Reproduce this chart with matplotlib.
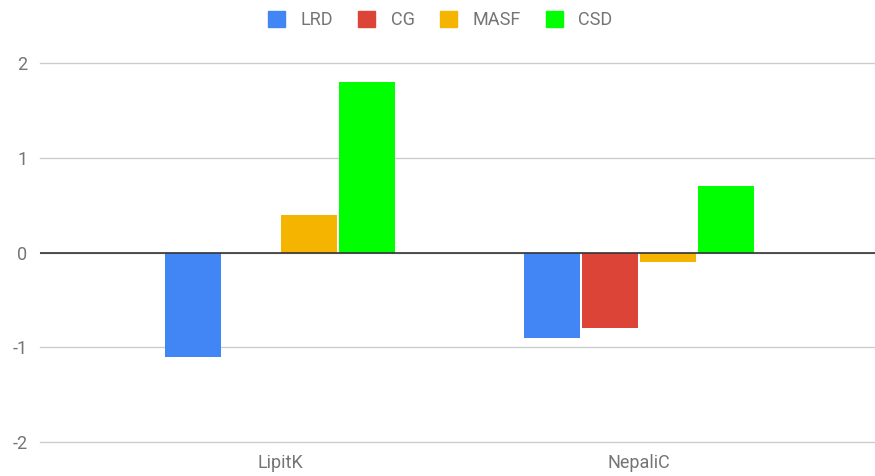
import matplotlib.pyplot as plt
import numpy as np
from matplotlib.patches import Patch

plt.rcParams['font.family'] = ['Roboto', 'DejaVu Sans']

categories = ['LipitK', 'NepaliC']
series = ['LRD', 'CG', 'MASF', 'CSD']
values = {
    'LRD': [-1.1, -0.9],
    'CG': [0.0, -0.8],
    'MASF': [0.4, -0.1],
    'CSD': [1.8, 0.7],
}
colors = ['#4285f4', '#db4437', '#f4b400', '#00ff00']
y_ticks = [-2, -1, 0, 1, 2]

fig = plt.figure(figsize=(8.75, 4.76), dpi=100)
ax = fig.add_axes([40 / 875, 1 - 442 / 476, 835 / 875, 379 / 476])

x = np.arange(len(categories))
width = 0.156
step = 0.1616
for i, (name, color) in enumerate(zip(series, colors)):
    offset = (i - 1.5) * step
    ax.bar(x + offset, values[name], width, color=color, zorder=3)

ax.set_ylim(-2, 2)
ax.set_xlim(-240 / 359, 1 + 236 / 359)
ax.set_yticks(y_ticks)
ax.set_yticklabels([str(t) for t in y_ticks])
ax.set_xticks(x)
ax.set_xticklabels(categories)
ax.grid(axis='y', color='#cccccc', linewidth=1, zorder=0)
for g in ax.get_ygridlines():
    g.set_clip_on(False)
ax.axhline(0, color='#333333', linewidth=1.2, zorder=4)
for s in ax.spines.values():
    s.set_visible(False)
ax.tick_params(axis='both', length=0, labelsize=13, labelcolor='#757575')
ax.tick_params(axis='y', pad=9)
ax.tick_params(axis='x', pad=9)

handles = [Patch(facecolor=c, edgecolor=c) for c in colors]
leg = fig.legend(handles, series, loc='center', bbox_to_anchor=(0.503, 1 - 20 / 476),
                 ncol=4, frameon=False, fontsize=13, handlelength=0.95, handleheight=0.95,
                 handletextpad=0.85, columnspacing=1.4)
for t in leg.get_texts():
    t.set_color('#757575')

fig.savefig('out.png', dpi=100)
plt.close(fig)
